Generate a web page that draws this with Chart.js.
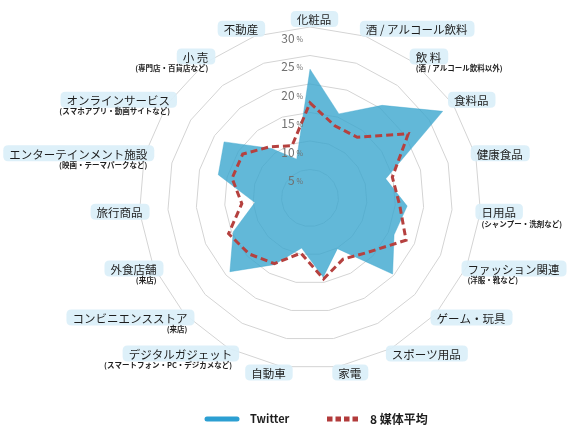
<!DOCTYPE html>
<html><head><meta charset="utf-8">
<script src="https://cdn.jsdelivr.net/npm/chart.js@4.4.1/dist/chart.umd.min.js"></script>
<style>html,body{margin:0;padding:0;background:#fff}#wrap{width:580px;height:433px;position:relative}</style>
</head><body><div id="wrap"><canvas id="c"></canvas></div>
<script>
const categories = ['化粧品','酒 / アルコール飲料','飲 料','食料品','健康食品','日用品','ファッション関連','ゲーム・玩具','スポーツ用品','家電','自動車','デジタルガジェット','コンビニエンスストア','外食店舗','旅行商品','エンターテインメント施設','オンラインサービス','小 売','不動産'];
const subLabels = ['','','(酒 / アルコール飲料以外)','','','(シャンプー・洗剤など)','(洋服・靴など)','','','','','(スマートフォン・PC・デジカメなど)','(来店)','(来店)','','(映画・テーマパークなど)','(スマホアプリ・動画サイトなど)','(専門店・百貨店など)',''];
const twitterValues = [22.6, 15.6, 20.6, 27.8, 13.7, 17.1, 16.1, 19.7, 10.1, 14.1, 8.9, 13.3, 19.1, 14.7, 9.7, 16.6, 18.0, 11.0, 7.2];
const averageValues = [16.7, 13.4, 13.5, 20.6, 14.9, 15.8, 18.4, 14.0, 12.2, 14.4, 9.8, 13.1, 14.5, 15.6, 12.0, 14.1, 14.1, 11.4, 9.7];
const tickValues = [5, 10, 15, 20, 25, 30];
const seriesNames = ['Twitter', '8 媒体平均'];

const FONT = '"Noto Sans CJK JP", "Noto Sans", sans-serif';

function rr(ctx, x, y, w, h, r) {
  ctx.beginPath();
  ctx.moveTo(x + r, y);
  ctx.lineTo(x + w - r, y);
  ctx.quadraticCurveTo(x + w, y, x + w, y + r);
  ctx.lineTo(x + w, y + h - r);
  ctx.quadraticCurveTo(x + w, y + h, x + w - r, y + h);
  ctx.lineTo(x + r, y + h);
  ctx.quadraticCurveTo(x, y + h, x, y + h - r);
  ctx.lineTo(x, y + r);
  ctx.quadraticCurveTo(x, y, x + r, y);
  ctx.closePath();
}

const decorPlugin = {
  id: 'decor',
  afterDraw(chart) {
    const ctx = chart.ctx;
    const s = chart.scales.r;
    ctx.save();
    ctx.textBaseline = 'middle';
    tickValues.forEach(v => {
      const d = s.getDistanceFromCenterForValue(v);
      const y = s.yCenter - d + 11;
      const xr = s.xCenter - 7;
      ctx.fillStyle = '#707070';
      ctx.textAlign = 'right';
      ctx.font = '7px ' + FONT;
      const pw = ctx.measureText('%').width;
      ctx.fillText('%', xr, y + 1);
      ctx.font = '12px ' + FONT;
      ctx.fillText(String(v), xr - pw - 2, y);
    });
    const n = categories.length;
    categories.forEach((lab, i) => {
      const p = s.getPointPosition(i, s.drawingArea + 1);
      const ang = i * 2 * Math.PI / n;
      const sn = Math.sin(ang), cs = Math.cos(ang);
      const align = Math.abs(sn) < 0.05 ? 'center' : (sn > 0 ? 'left' : 'right');
      const x = p.x + (sn > 0.05 ? 0 : 4);
      const y = p.y - 6 * cs;
      ctx.font = '11.5px ' + FONT;
      const w = ctx.measureText(lab).width;
      const left = align === 'left' ? x : (align === 'right' ? x - w : x - w / 2);
      ctx.fillStyle = 'rgba(218,239,249,0.92)';
      rr(ctx, left - 6, y - 9, w + 13, 16, 5);
      ctx.fill();
      ctx.fillStyle = '#1e1e1e';
      ctx.textAlign = align;
      ctx.fillText(lab, x, y);
      if (subLabels[i]) {
        ctx.font = '600 7.5px ' + FONT;
        ctx.fillText(subLabels[i], x, y + 11);
      }
    });
    const ly = 419;
    ctx.lineCap = 'round';
    ctx.strokeStyle = '#2c9fd2';
    ctx.lineWidth = 5;
    ctx.beginPath(); ctx.moveTo(207, ly); ctx.lineTo(237, ly); ctx.stroke();
    ctx.lineCap = 'butt';
    ctx.strokeStyle = '#b23b3b';
    ctx.setLineDash([5.5, 3]);
    ctx.beginPath(); ctx.moveTo(327, ly); ctx.lineTo(359, ly); ctx.stroke();
    ctx.setLineDash([]);
    ctx.fillStyle = '#1e1e1e';
    ctx.textAlign = 'left';
    ctx.font = '600 11px ' + FONT;
    ctx.fillText(seriesNames[0], 250, ly);
    ctx.font = '600 12px ' + FONT;
    ctx.fillText(seriesNames[1], 370, ly);
    ctx.restore();
  }
};

new Chart(document.getElementById('c'), {
  type: 'radar',
  data: {
    labels: categories,
    datasets: [
      {
        label: seriesNames[0],
        data: twitterValues,
        backgroundColor: 'rgba(59,166,206,0.8)',
        borderColor: 'rgba(59,166,206,0.8)',
        borderWidth: 0.5,
        fill: true,
        pointRadius: 0,
        order: 2
      },
      {
        label: seriesNames[1],
        data: averageValues,
        borderColor: '#b5413f',
        borderWidth: 3,
        borderDash: [7, 4],
        borderJoinStyle: 'miter',
        fill: false,
        pointRadius: 0,
        order: 1
      }
    ]
  },
  options: {
    responsive: true,
    maintainAspectRatio: false,
    animation: false,
    layout: { padding: { left: 139, right: 99, top: 27, bottom: 64 } },
    plugins: { legend: { display: false }, tooltip: { enabled: false } },
    elements: { line: { tension: 0 } },
    scales: {
      r: {
        min: 0, max: 30,
        ticks: { stepSize: 5, display: false },
        grid: { color: '#d4d4d4', lineWidth: 1, circular: false },
        angleLines: { display: false },
        pointLabels: { display: false }
      }
    }
  },
  plugins: [decorPlugin]
});
</script>
</body></html>
